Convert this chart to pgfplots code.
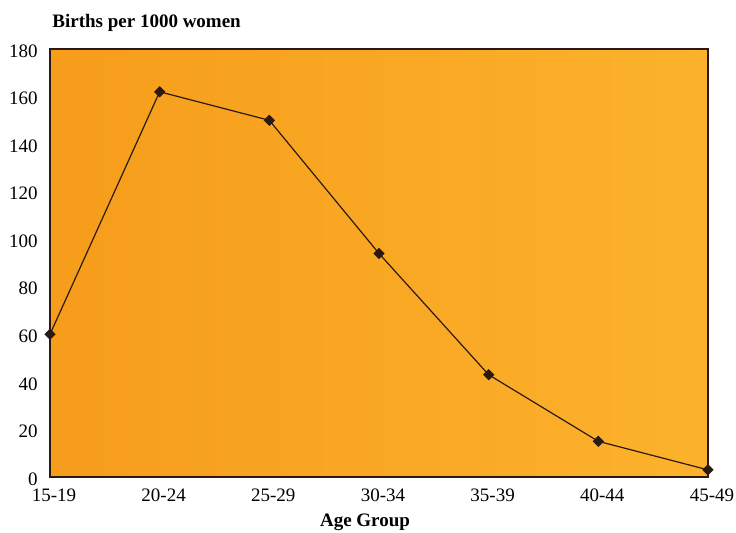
\documentclass[border=0pt]{standalone}
\usepackage{pgfplots}
\pgfplotsset{compat=1.18}
\usepackage{fontspec}
\setmainfont{Liberation Serif}
\definecolor{bgL}{RGB}{246,157,27}
\definecolor{bgR}{RGB}{252,178,44}
\definecolor{ln}{RGB}{45,25,20}
\begin{document}
\begin{tikzpicture}
\begin{axis}[
  scale only axis, width=329pt, height=214pt,
  clip=false,
  xmin=0, xmax=6, ymin=0, ymax=180,
  xtick={0,1,2,3,4,5,6},
  xticklabels={15-19,20-24,25-29,30-34,35-39,40-44,45-49},
  ytick={0,20,40,60,80,100,120,140,160,180},
  major tick length=0pt,
  axis background/.style={shade, left color=bgL, right color=bgR},
  axis line style={ln, line width=0.6pt},
  font=\fontsize{9.5}{11}\selectfont,
  /pgf/number format/assume math mode=true,
  xticklabel style={anchor=base, inner sep=0pt, yshift=-12.5pt, xshift=2pt},
  yticklabel style={anchor=east, inner sep=0pt, xshift=-6pt, yshift=-1pt},
  xlabel={\bfseries Age Group},
  xlabel style={at={(rel axis cs:0.5,0)}, anchor=base, inner sep=0pt, yshift=-25pt, xshift=-7pt},
  title={\bfseries Births per 1000 women},
  every axis title shift=0pt,
  title style={at={(rel axis cs:0,1)}, anchor=base west, inner sep=0pt, xshift=1pt, yshift=10.5pt},
]
\addplot[ln, line width=0.6pt, mark=square*, mark size=1.7pt, mark options={fill=ln, rotate=45}]
  coordinates {(0,60) (1,162) (2,150) (3,94) (4,43) (5,15) (6,3)};
\coordinate (o) at (rel axis cs:0,0);
\end{axis}
\pgfresetboundingbox
\path ([shift={(-25pt,-28pt)}]o) rectangle ([shift={(343pt,238.5pt)}]o);
\end{tikzpicture}
\end{document}
